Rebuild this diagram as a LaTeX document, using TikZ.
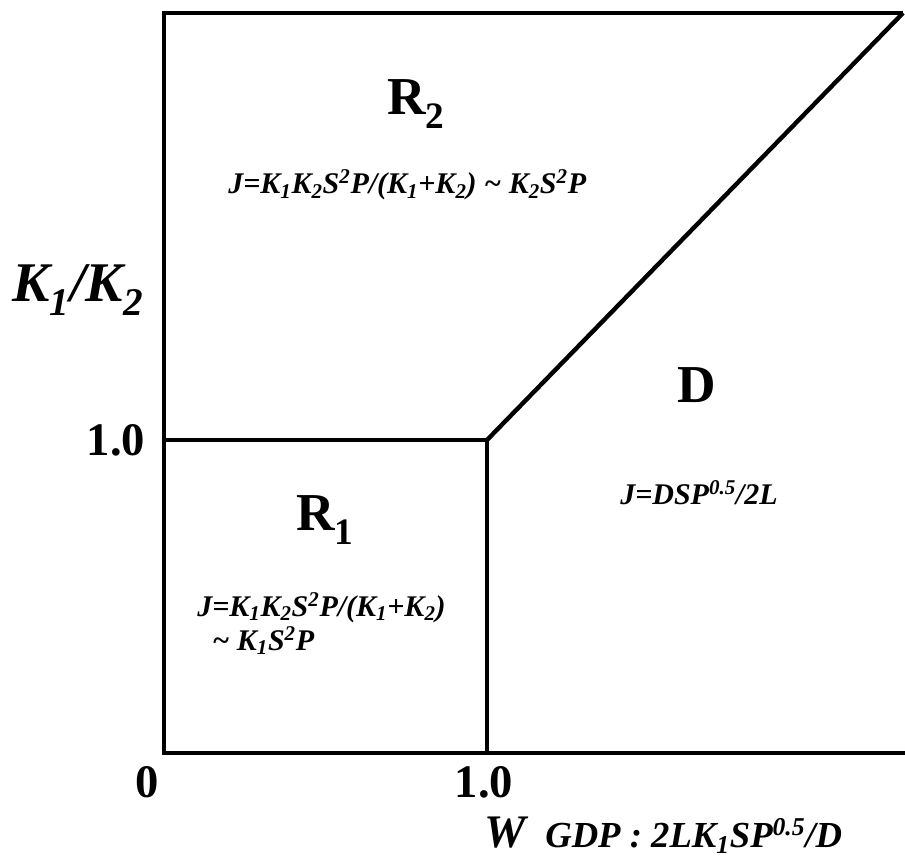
\documentclass[tikz,border=0pt]{standalone}
\usepackage{fontspec}
\setmainfont{Liberation Serif}
\usetikzlibrary{positioning}
\newcommand{\Kn}[1]{K\textsubscript{#1}}
\newcommand{\tld}{\textasciitilde}

\begin{document}
\begin{tikzpicture}[x=0.75pt, y=-0.75pt,
  frameline/.style={line width=3pt},
  innerline/.style={line width=2.6pt},
  diagline/.style={line width=3.3pt},
  regname/.style={font=\fontsize{40}{40}\selectfont\bfseries, inner sep=0pt},
  flux/.style={font=\fontsize{22.5}{25.5}\selectfont\bfseries\itshape, align=left, inner sep=0pt},
  ticklab/.style={font=\fontsize{35}{35}\selectfont\bfseries, inner sep=0pt},
  axislab/.style={font=\fontsize{38}{38}\selectfont\bfseries\itshape, inner sep=0pt},
]
\useasboundingbox (0,0) rectangle (905,861);

% ===================== Frame and boundaries =====================
\coordinate (origin) at (164,753);
\coordinate (topleft) at (164,13);
\coordinate (topright) at (903,13);
\coordinate (botright) at (905,753);
\coordinate (yone) at (164,440);
\coordinate (xone) at (487,753);
\coordinate (corner) at (487,440);

\draw[frameline] (botright) -- (origin) -- (topleft) -- (topright);
\draw[innerline] (yone) -- (corner) -- (xone);
\draw[diagline] (corner) -- (topright);

% ===================== Regions =====================
\node[regname] (rtwo) at (416,104) {R\textsubscript{2}};
\node[flux, anchor=west] (jrtwo) at (228,185) {J=\Kn{1}\Kn{2}S\textsuperscript{2}P/(\Kn{1}+\Kn{2}) \tld\ \Kn{2}S\textsuperscript{2}P};

\node[regname] (rone) at (325,520) {R\textsubscript{1}};
\node[flux, anchor=north west] (jrone) at (197,592) {J=\Kn{1}\Kn{2}S\textsuperscript{2}P/(\Kn{1}+\Kn{2})\\
\hspace{0.5em}\tld\ \Kn{1}S\textsuperscript{2}P};

\node[regname] (dreg) at (697,385) {D};
\node[flux, anchor=west] (jd) at (620,493) {J=DSP\textsuperscript{0.5}/2L};

% ===================== Axes =====================
\node[axislab, font=\fontsize{42}{42}\selectfont\bfseries\itshape] (ylab) at (78,290) {\Kn{1}/\Kn{2}};
\node[ticklab] (yonelab) at (116,440) {1.0};
\node[ticklab] (zerolab) at (147,782) {0};
\node[ticklab] (xonelab) at (484,782) {1.0};
\node[axislab, font=\fontsize{35}{35}\selectfont\bfseries\itshape] (xlab) at (505,833) {W};
\node[flux, anchor=west, font=\fontsize{27.5}{27.5}\selectfont\bfseries\itshape] (gdp) at (545,836) {GDP : 2L\Kn{1}SP\textsuperscript{0.5}/D};

\end{tikzpicture}
\end{document}
